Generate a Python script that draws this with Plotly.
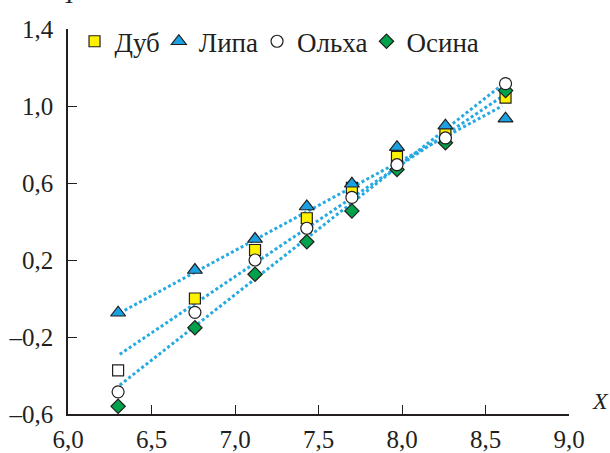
import plotly.graph_objects as go

# ---- data ----
x_vals = [6.30, 6.76, 7.12, 7.43, 7.70, 7.97, 8.26, 8.62]
dub = [-0.373, 0.0, 0.252, 0.417, 0.575, 0.736, 0.862, 1.043]
lipa = [-0.074, 0.148, 0.309, 0.478, 0.596, 0.786, 0.898, 0.934]
olkha = [-0.485, -0.072, 0.200, 0.365, 0.525, 0.695, 0.834, 1.116]
osina = [-0.560, -0.152, 0.126, 0.295, 0.455, 0.670, 0.809, 1.080]

# dotted trend lines (end points)
trend_x = [6.31, 8.60]
trend_lipa = [-0.075, 1.00]
trend_dub = [-0.29, 1.05]
trend_osina = [-0.45, 1.11]

x_tickvals = [6.0, 6.5, 7.0, 7.5, 8.0, 8.5, 9.0]
x_ticktext = ["6,0", "6,5", "7,0", "7,5", "8,0", "8,5", "9,0"]
y_tickvals = [-0.6, -0.2, 0.2, 0.6, 1.0, 1.4]
y_ticktext = ["–0,6", "–0,2", "0,2", "0,6", "1,0", "1,4"]

INK = "#231f20"
YELLOW = "#fff200"
BLUE = "#1ba1e2"
GREEN = "#00a14b"
LINE = "#27aae1"
FONT = "Liberation Serif, Times New Roman, Times, serif"

fig = go.Figure()

for ty in (trend_lipa, trend_dub, trend_osina):
    fig.add_trace(go.Scatter(x=trend_x, y=ty, mode="lines", showlegend=False,
                             line=dict(color=LINE, width=3, dash="3px,2.5px"),
                             hoverinfo="skip"))

mline = dict(color=INK, width=1.2)

# Дуб: the first point is drawn hollow (white) in the reference
fig.add_trace(go.Scatter(x=x_vals[:1], y=dub[:1], mode="markers", showlegend=False,
                         marker=dict(symbol="square", size=11, color="white", line=mline)))
fig.add_trace(go.Scatter(x=x_vals[1:], y=dub[1:], mode="markers", name="Дуб", legendrank=1,
                         marker=dict(symbol="square", size=11, color=YELLOW, line=mline)))
fig.add_trace(go.Scatter(x=x_vals, y=lipa, mode="markers", name="Липа", legendrank=2,
                         marker=dict(symbol="triangle-up", size=13, color=BLUE, line=mline)))
fig.add_trace(go.Scatter(x=x_vals, y=osina, mode="markers", name="Осина", legendrank=4,
                         marker=dict(symbol="diamond", size=11, color=GREEN, line=mline)))
fig.add_trace(go.Scatter(x=x_vals, y=olkha, mode="markers", name="Ольха", legendrank=3,
                         marker=dict(symbol="circle", size=12, color="white", line=mline)))

axis_common = dict(showline=True, linecolor=INK, linewidth=1.5, ticks="inside",
                   ticklen=9, tickwidth=1.3, tickcolor=INK, showgrid=False, zeroline=False,
                   automargin=False, tickfont=dict(family=FONT, size=25, color=INK))

fig.update_xaxes(range=[6.0, 9.0], tickmode="array", tickvals=x_tickvals,
                 ticktext=x_ticktext, ticklabelstandoff=2, **axis_common)
fig.update_yaxes(range=[-0.6, 1.4], tickmode="array", tickvals=y_tickvals,
                 ticktext=y_ticktext, ticklabelstandoff=8, **axis_common)

fig.add_annotation(text="<i>X</i>", xref="paper", yref="paper", x=1.042, y=-0.005,
                   xanchor="left", yanchor="bottom", showarrow=False,
                   font=dict(family=FONT, size=24, color=INK))
fig.add_annotation(text="<i>Y</i>", xref="paper", yref="paper", x=0.006, y=1.05,
                   xanchor="center", yanchor="bottom", showarrow=False,
                   font=dict(family=FONT, size=24, color=INK))

fig.update_layout(
    width=610, height=453,
    margin=dict(l=68, r=41, t=29, b=39),
    paper_bgcolor="white", plot_bgcolor="white",
    font=dict(family=FONT, size=25, color=INK),
    legend=dict(orientation="h", x=0.025, y=0.967, xanchor="left", yanchor="middle",
                bgcolor="rgba(0,0,0,0)", font=dict(family=FONT, size=27, color=INK),
                itemwidth=30, indentation=-6),
)

fig.write_html("out.html", config={"displayModeBar": False},
               post_script="document.body.style.margin='0';document.body.style.overflow='hidden';")
